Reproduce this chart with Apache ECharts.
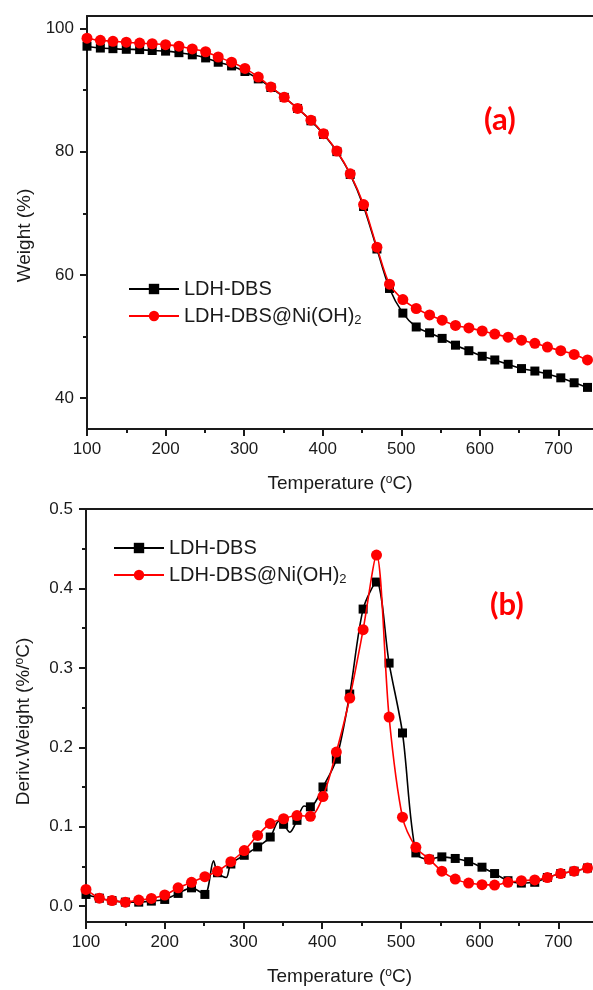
<!DOCTYPE html>
<html>
<head>
<meta charset="utf-8">
<script src="https://cdn.jsdelivr.net/npm/echarts@6/dist/echarts.min.js"></script>
<style>html,body{margin:0;padding:0;background:#fff}#c{width:593px;height:990px}</style>
</head>
<body>
<div id="c"></div>
<script>
// Temperatures (°C) of the plotted markers
const temps = [100,117,133,150,167,183,200,217,234,251,267,284,301,318,334,351,368,385,401,418,435,452,469,485,502,519,536,552,569,586,603,619,636,653,670,686,703,720,737];
// (a) TGA weight (%)
const weightLDH = [97.1,96.8,96.7,96.6,96.55,96.4,96.3,96.05,95.7,95.2,94.5,93.9,93.0,91.8,90.4,88.8,87.0,85.0,82.8,80.0,76.3,71.1,64.2,57.8,53.8,51.55,50.6,49.7,48.6,47.7,46.8,46.2,45.5,44.8,44.4,43.9,43.3,42.5,41.75];
const weightNi  = [98.4,98.05,97.9,97.75,97.6,97.5,97.35,97.1,96.65,96.2,95.35,94.5,93.5,92.1,90.5,88.8,87.0,85.1,82.9,80.1,76.4,71.4,64.5,58.5,56.0,54.55,53.5,52.65,51.8,51.4,50.9,50.4,49.9,49.4,48.9,48.3,47.7,47.1,46.2];
// (b) DTG (%/°C)
const derivLDH = [0.0147,0.010,0.007,0.005,0.005,0.0063,0.0084,0.016,0.023,0.0147,0.042,0.053,0.064,0.0745,0.087,0.103,0.108,0.125,0.150,0.185,0.267,0.374,0.408,0.306,0.218,0.067,0.059,0.062,0.060,0.056,0.049,0.041,0.032,0.029,0.030,0.036,0.041,0.044,0.048];
const derivNi  = [0.021,0.010,0.007,0.005,0.0076,0.0097,0.014,0.023,0.030,0.037,0.044,0.056,0.070,0.089,0.104,0.110,0.114,0.113,0.138,0.194,0.262,0.348,0.442,0.238,0.112,0.074,0.059,0.044,0.034,0.029,0.027,0.0265,0.030,0.032,0.033,0.036,0.041,0.044,0.048];
// extra curve points (between markers) of the LDH-DBS DTG trace
const derivLDHExtraT = [262,278,345,359,377];
const derivLDHExtraV = [0.057,0.036,0.107,0.093,0.126];
// ticks
const xTicks = [100,200,300,400,500,600,700];
const xMinorTicks = [150,250,350,450,550,650];
const yTicksA = [40,60,80,100];
const yMinorA = [50,70,90];
const yTicksB = [0,0.1,0.2,0.3,0.4,0.5];
const yMinorB = [0.05,0.15,0.25,0.35,0.45];
const names = ['LDH-DBS','LDH-DBS@Ni(OH)2'];

function pairs(t, v){ return t.map((x,i)=>[x, v[i]]); }
function withExtra(t, v, et, ev){
  const pts = pairs(t, v).map(p=>({value:p}));
  et.forEach((x,i)=>pts.push({value:[x, ev[i]], symbol:'none'}));
  pts.sort((a,b)=>a.value[0]-b.value[0]);
  return pts;
}

const FONT = 'Liberation Sans, Arial, sans-serif';
const INK = '#1a1a1a';
const XMAX = 744;

function mainX(gi){
  return {gridIndex:gi, type:'value', min:100, max:XMAX, position:'bottom',
    name:'Temperature ({s|o}C)', nameLocation:'middle', nameGap:45,
    nameTextStyle:{fontFamily:FONT, fontSize:19, color:INK, rich:{s:{fontSize:12, verticalAlign:'top', padding:[0,0,8,0], fontFamily:FONT, color:INK}}},
    axisLine:{onZero:false, lineStyle:{color:INK, width:2}},
    axisTick:{customValues:xTicks, length:7, inside:false, lineStyle:{width:2, color:INK}},
    axisLabel:{customValues:xTicks, margin:12, fontFamily:FONT, fontSize:17, color:INK},
    splitLine:{show:false}};
}
function minorX(gi){
  return {gridIndex:gi, type:'value', min:100, max:XMAX, position:'bottom',
    axisLine:{show:false, onZero:false},
    axisTick:{customValues:xMinorTicks, length:4, lineStyle:{width:2, color:INK}},
    axisLabel:{show:false}, splitLine:{show:false}};
}
function topX(gi){
  return {gridIndex:gi, type:'value', min:100, max:XMAX, position:'top',
    axisLine:{onZero:false, lineStyle:{color:INK, width:2}},
    axisTick:{show:false}, axisLabel:{show:false}, splitLine:{show:false}};
}
function mainY(gi, min, max, ticks, fmt, name, gap, pad){
  return {gridIndex:gi, type:'value', min:min, max:max, position:'left',
    name:name, nameLocation:'middle', nameGap:gap,
    nameTextStyle:{fontFamily:FONT, fontSize:19, color:INK, padding:pad,
      rich:{s:{fontSize:12, verticalAlign:'top', fontFamily:FONT, color:INK}}},
    axisLine:{onZero:false, lineStyle:{color:INK, width:2}},
    axisTick:{customValues:ticks, length:7, lineStyle:{width:2, color:INK}},
    axisLabel:{customValues:ticks, margin:13, fontFamily:FONT, fontSize:17, color:INK, formatter:fmt},
    splitLine:{show:false}};
}
function minorY(gi, min, max, ticks){
  return {gridIndex:gi, type:'value', min:min, max:max, position:'left',
    axisLine:{show:false, onZero:false},
    axisTick:{customValues:ticks, length:4, lineStyle:{width:2, color:INK}},
    axisLabel:{show:false}, splitLine:{show:false}};
}
function lineSeries(name, xi, yi, data, color, symbol, size, smooth){
  return {name:name, type:'line', xAxisIndex:xi, yAxisIndex:yi, data:data,
    symbol:symbol, symbolSize:size, showAllSymbol:true, smooth:smooth,
    lineStyle:{color:color, width:1.6}, itemStyle:{color:color, borderWidth:0},
    emphasis:{disabled:true}, animation:false, z: color==='#ff0000'?3:2};
}
function legendAt(left, top){
  return {left:left, top:top, orient:'vertical', itemWidth:50, itemHeight:13, itemGap:7,
    data:names, selectedMode:false,
    formatter:function(n){ return n==='LDH-DBS@Ni(OH)2' ? 'LDH-DBS@Ni(OH){sub|2}' : n; },
    textStyle:{fontFamily:FONT, fontSize:20, color:INK,
      rich:{sub:{fontSize:13, fontFamily:FONT, color:INK, verticalAlign:'bottom', padding:[9,0,0,0]}}}};
}

const chart = echarts.init(document.getElementById('c'), null, {renderer:'canvas'});
chart.setOption({
  backgroundColor:'#fff',
  animation:false,
  grid:[{left:87, top:16, right:0, height:413},
        {left:86, top:509, right:0, height:413}],
  xAxis:[mainX(0), minorX(0), topX(0), mainX(1), minorX(1), topX(1)],
  yAxis:[mainY(0, 35, 102, yTicksA, v=>String(v), 'Weight (%)', 52, [0,26,0,0]),
         minorY(0, 35, 102, yMinorA),
         mainY(1, -0.02, 0.5, yTicksB, v=>v.toFixed(1), 'Deriv.Weight (%/{s|o}C)', 53, [0,12,0,0]),
         minorY(1, -0.02, 0.5, yMinorB)],
  legend:[legendAt(123, 274), legendAt(108, 533)],
  graphic:[
    {type:'text', left:484, top:104, style:{text:'(a)', fill:'#ff0000', font:'bold 31px Lato, "Open Sans", sans-serif'}},
    {type:'text', left:490, top:589, style:{text:'(b)', fill:'#ff0000', font:'bold 31px Lato, "Open Sans", sans-serif'}}
  ],
  series:[
    lineSeries(names[0], 0, 0, pairs(temps, weightLDH), '#000000', 'rect', 9, 0.3),
    lineSeries(names[1], 0, 0, pairs(temps, weightNi), '#ff0000', 'circle', 11, 0.3),
    lineSeries(names[0], 3, 2, withExtra(temps, derivLDH, derivLDHExtraT, derivLDHExtraV), '#000000', 'rect', 9, 0.3),
    lineSeries(names[1], 3, 2, pairs(temps, derivNi), '#ff0000', 'circle', 11, 0.3)
  ]
});
</script>
</body>
</html>
